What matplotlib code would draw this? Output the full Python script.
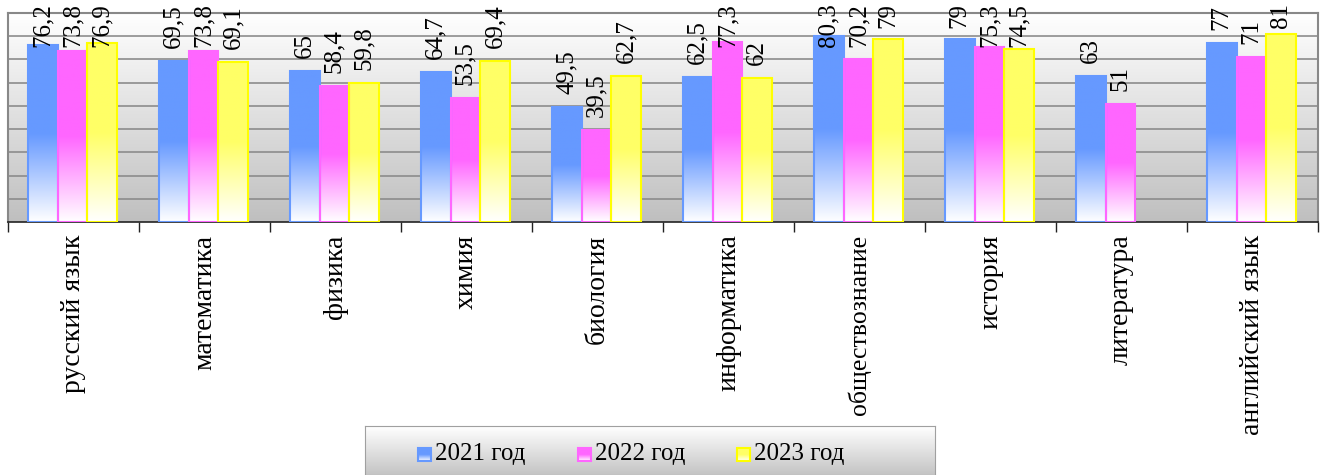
import matplotlib.pyplot as plt
import numpy as np
from matplotlib.colors import LinearSegmentedColormap
from matplotlib.patches import Rectangle

subjects = ['русский язык', 'математика', 'физика', 'химия', 'биология',
            'информатика', 'обществознание', 'история', 'литература',
            'английский язык']
y2021 = [76.2, 69.5, 65, 64.7, 49.5, 62.5, 80.3, 79, 63, 77]
y2022 = [73.8, 73.8, 58.4, 53.5, 39.5, 77.3, 70.2, 75.3, 51, 71]
y2023 = [76.9, 69.1, 59.8, 69.4, 62.7, 62, 79, 74.5, np.nan, 81]
series = ['2021 год', '2022 год', '2023 год']

face = ['#6699ff', '#ff66ff', '#ffff66']
edge = ['#6699ff', '#ff66ff', '#ffff00']

plt.rcParams['font.family'] = ['Liberation Serif', 'DejaVu Serif']

W, H = 13.25, 4.75
fig = plt.figure(figsize=(W, H), dpi=100)
ax = fig.add_axes([8 / 1325, 1 - 222 / 475, 1310 / 1325, 209 / 475])

n = len(subjects)
ymax = 90
ax.set_xlim(0, n)
ax.set_ylim(0, ymax)

# plot background: white -> grey gradient
bg = LinearSegmentedColormap.from_list('bg', ['#bfbfbf', '#ffffff'])
ax.imshow(np.linspace(0, 1, 256).reshape(-1, 1), cmap=bg, origin='lower',
          extent=[0, n, 0, ymax], aspect='auto', zorder=0)

for g in range(10, ymax, 10):
    ax.axhline(g, color='#8c8c8c', lw=1.2, zorder=1)

bw = 0.227
grad = np.linspace(0, 1, 256).reshape(-1, 1)
cmaps = [LinearSegmentedColormap.from_list('c%d' % s, ['#ffffff', face[s], face[s]])
         for s in range(3)]
fig.canvas.draw()
labels = []
for s, vals in enumerate([y2021, y2022, y2023]):
    for i, v in enumerate(vals):
        if np.isnan(v):
            continue
        x0 = i + 0.5 - 1.5 * bw + s * bw - 0.008
        ax.imshow(grad, cmap=cmaps[s], origin='lower', extent=[x0, x0 + bw, 0, v],
                  aspect='auto', zorder=2)
        ax.add_patch(Rectangle((x0, 0), bw, v, fill=False, ec=edge[s], lw=1.5, zorder=3))
        txt = ('%g' % v).replace('.', ',')
        px, py = ax.transData.transform((x0 + bw / 2, v))
        t = fig.text(px / (W * 100), (py + 13) / (H * 100), txt, rotation=90,
                     ha='center', va='bottom', fontsize=18, zorder=5)
        labels.append((t, py + 13))

ax.set_ylim(0, ymax)
ax.set_xlim(0, n)

# keep data labels inside the figure
r = fig.canvas.get_renderer()
for t, bottom in labels:
    h = t.get_window_extent(r).height
    if bottom + h > H * 100 - 3:
        t.set_y((H * 100 - 3 - h) / (H * 100))

ax.set_yticks([])
ax.set_xticks(np.arange(n) + 0.5)
ax.set_xticklabels(subjects, rotation=90, fontsize=20, va='top')
ax.get_xticklabels()[6].set_fontsize(18.5)
ax.tick_params(axis='x', which='major', length=0, pad=9)
ax.set_xticks(np.arange(n + 1), minor=True)
ax.tick_params(axis='x', which='minor', length=7, width=1, color='#222222',
               direction='out')

for sp in ['top', 'right', 'left']:
    ax.spines[sp].set_color('#888888')
    ax.spines[sp].set_linewidth(1.5)
ax.spines['bottom'].set_color('#222222')
ax.spines['bottom'].set_linewidth(1.2)

# legend box with grey gradient (pixel coordinates inside the box)
lax = fig.add_axes([365 / 1325, 0, 570 / 1325, 49 / 475], zorder=4)
lax.set_xlim(365, 935)
lax.set_ylim(0, 49)
lbg = LinearSegmentedColormap.from_list('lbg', ['#c4c4c4', '#ffffff'])
lax.imshow(np.linspace(0, 1, 64).reshape(-1, 1), cmap=lbg, origin='lower',
           extent=[365, 935, 0, 49], aspect='auto')
lax.set_xticks([])
lax.set_yticks([])
for sp in lax.spines.values():
    sp.set_color('#a0a0a0')
hx = [418, 578, 737]
for k in range(3):
    lax.imshow(grad, cmap=cmaps[k], origin='lower',
               extent=[hx[k], hx[k] + 13, 14.5, 27.5], aspect='auto', zorder=2)
    lax.add_patch(Rectangle((hx[k], 14.5), 13, 13, fill=False, ec=edge[k], lw=1.5, zorder=3))
    lax.text(hx[k] + 17, 21, series[k], fontsize=18, va='center', ha='left', zorder=3)
lax.set_xlim(365, 935)
lax.set_ylim(0, 49)

fig.savefig('out.png', dpi=100)
